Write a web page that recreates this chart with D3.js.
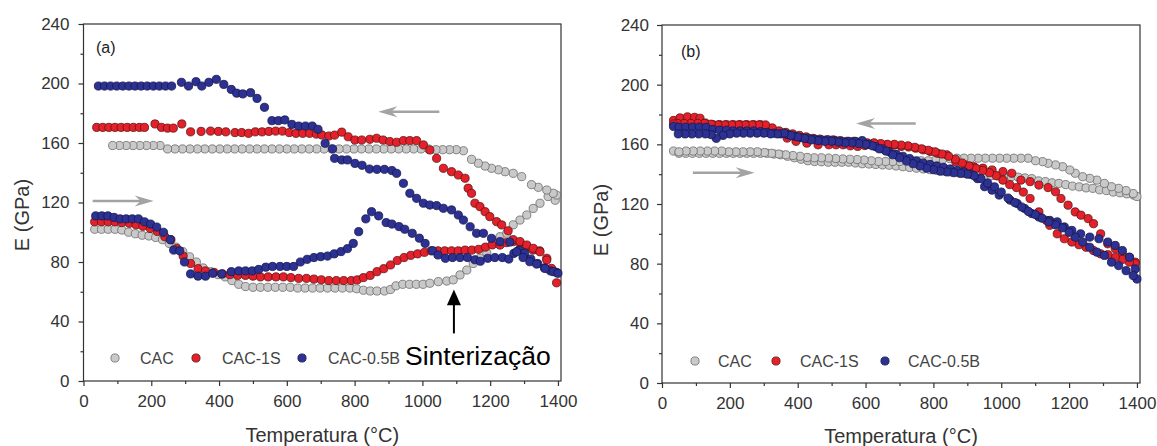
<!DOCTYPE html>
<html><head><meta charset="utf-8">
<script src="https://cdn.jsdelivr.net/npm/d3@7"></script>
<style>body{margin:0;background:#fff}text{font-family:"Liberation Sans",Arial,sans-serif}</style>
</head><body><svg id="c" width="1157" height="446"></svg>
<script>
// ---------- DATA ----------
const seriesNames = ["CAC", "CAC-1S", "CAC-0.5B"];
const xMajorTicks = [0, 200, 400, 600, 800, 1000, 1200, 1400];
const xMinorTicks = [100, 300, 500, 700, 900, 1100, 1300];
const yMajorTicks = [0, 40, 80, 120, 160, 200, 240];
const yMinorTicks = [20, 60, 100, 140, 180, 220];

// Panel (a) [Temperature °C, E GPa]
const aCAC_heat = [[33,102],[53,102],[73,102],[93,102],[113,101.5],[133,100],[153,99],[173,98],[193,97.5],[213,96.5],[233,95],[253,92.5],[273,90],[293,87],[313,83.5],[333,80],[353,76],[375,73.5],[397,71.5],[418,70],[438,67.5],[458,65],[478,63.5],[500,63],[522,63],[544,63],[566,63],[588,63],[610,63],[632,62.5],[654,62.5],[676,62.5],[698,62.5],[720,62.5],[742,62.5],[764,62.5],[786,62.5],[806,62],[826,61],[846,60.5],[866,60.5],[888,60.5],[906,61.5],[922,64],[942,65],[962,65],[982,65],[1002,65],[1022,65.7],[1047,66.8],[1072,67.2],[1091,68],[1111,71.3],[1131,74.6],[1150,79],[1170,82.5],[1190,86],[1209,93.7],[1229,97],[1249,99.3],[1268,105],[1288,108.2],[1308,111.6],[1327,116],[1347,119.5],[1371,124],[1392,121.5]];
const aCAC_cool = [[1396,125],[1386,126.2],[1367,128.4],[1342,130.2],[1322,132],[1293,137.4],[1268,139.6],[1244,140.7],[1224,142],[1204,143],[1185,144.5],[1165,146.4],[1145,149],[1121,154.8],[1100,155.5],[1080,155.5],[1060,155.5],[1040,155.5],[1018,156],[996,156],[974,156],[952,156],[930,156],[908,156],[886,156],[864,156],[842,156],[820,156],[798,156],[776,156],[754,156],[732,156],[710,156],[688,156],[666,156],[644,156],[622,156],[600,156],[578,156],[556,156],[534,156],[512,156],[490,156],[468,156],[446,156],[424,156],[402,156],[380,156],[358,156],[336,156],[314,156],[292,156],[270,156],[248,156],[226,158.3],[206,158.3],[186,158.3],[166,158.3],[146,158.3],[126,158.3],[106,158.3],[86,158.3]];
const aS_heat = [[33,107],[53,107],[73,107],[93,107],[113,106.5],[135,106],[155,105],[175,104],[197,102.5],[218,100.5],[240,97],[258,95],[275,89],[294,84],[316,79],[338,75.5],[360,74],[385,73],[410,72],[432,71.5],[455,71],[478,71],[500,70.5],[522,70],[545,70],[568,70],[590,70],[612,69.5],[635,69],[658,69],[680,68.5],[702,68],[724,67.5],[746,67.5],[768,67.5],[790,67.5],[808,68],[826,69.5],[846,71],[866,73.5],[886,75.5],[906,78],[926,81],[946,83],[966,84.5],[986,85.5],[1006,86.5],[1026,87.5],[1046,87.5],[1066,87.5],[1086,87.5],[1106,87.5],[1126,88],[1146,88],[1166,88.5],[1186,90],[1206,91.5],[1229,91.4],[1248,93],[1268,93.7],[1288,93],[1308,90.3],[1327,88],[1346,87.5],[1367,82.5],[1386,74],[1396,66]];
const aS_cool = [[39,170.5],[57,170.5],[75,170.5],[93,170.5],[111,170.5],[129,170.5],[147,170.5],[165,170.5],[180,170.5],[211,172.8],[230,170.5],[248,170],[265,170],[290,172.8],[316,167.5],[347,167.8],[375,168],[398,167.8],[420,167.5],[447,167],[467,167],[487,166.5],[507,167.5],[527,167.5],[547,167.8],[567,168],[587,168],[607,167],[627,166.5],[647,166.5],[667,166.5],[687,166],[703,165.4],[724,164.7],[741,165.3],[762,167.3],[781,164.2],[801,162],[821,162],[845,162.5],[865,163.2],[884,162],[904,161],[924,160.5],[944,161.6],[963,161.6],[983,161.6],[1003,158.7],[1022,155.3],[1042,149.7],[1062,143],[1086,140.7],[1106,138.5],[1126,136.3],[1135,129.6],[1145,126.2],[1155,119.5],[1170,117.2],[1185,113.8],[1199,110.5],[1219,107.1],[1234,104.9],[1253,101],[1268,95],[1288,93.7],[1308,91.4],[1327,89.2],[1347,86.9],[1367,81.3],[1381,75.7]];
const aB_heat = [[36,111],[54,111],[72,111],[90,110],[108,109],[126,109],[144,109],[162,109],[180,107],[198,105.5],[216,103.5],[236,100],[256,95],[266,88],[284,87.5],[298,80],[316,72],[338,70.5],[360,70.5],[381,72.4],[408,72],[436,73.5],[458,74],[478,74],[498,74],[517,75],[538,76.5],[558,77],[580,77],[600,77],[620,77],[640,80],[660,81.8],[680,83],[700,83.6],[720,84],[740,85.5],[760,87],[779,89],[796,92.5],[812,100.4],[833,109],[850,113.8],[871,111],[893,106.5],[910,105.5],[931,103.8],[948,102],[970,99.3],[991,96],[1008,92.5],[1030,87.6],[1046,84.7],[1068,82.5],[1089,83],[1111,83],[1133,83],[1155,81.5],[1171,80.5],[1193,82.5],[1214,83],[1236,83],[1255,82],[1270,85.8],[1285,88],[1302,86],[1320,82],[1340,79],[1360,76],[1378,74],[1396,73]];
const aB_cool = [[44,198.3],[62,198.3],[80,198.3],[98,198.3],[116,198.3],[134,198.3],[152,198.3],[170,198.3],[188,198.3],[206,198.3],[224,198.3],[242,198.3],[260,198.3],[289,200.8],[310,198.3],[332,201.2],[349,198.3],[370,200.8],[392,202.8],[414,199.4],[436,196],[452,193.5],[470,193],[493,193.8],[512,190],[534,184],[556,175],[575,175],[594,175.5],[615,172.5],[635,171.4],[655,171.4],[675,171.4],[692,169.2],[713,159.8],[735,156],[741,149.7],[762,148.6],[779,148.6],[801,146.3],[822,145],[844,142.5],[866,142.3],[888,142.3],[910,141.5],[924,139.6],[944,132.9],[963,126.2],[983,122.8],[1003,119.5],[1022,118.3],[1042,117.9],[1062,116.1],[1086,115],[1106,111.6],[1121,108.2],[1141,103.7],[1160,99.3],[1180,99.3],[1204,95.9],[1229,93.7],[1258,93.4],[1278,86.9],[1297,83],[1317,80.2],[1337,78.6],[1362,75.7],[1386,73.5],[1400,72.4]];

// Panel (b)
const bCAC_heat = [[34,155.5],[50,154],[70,154],[90,154],[110,154],[130,154],[150,154],[170,154],[190,154],[210,154],[230,154],[250,154],[270,154],[290,154],[310,154],[330,153.5],[350,153],[370,152],[390,151],[410,150],[430,149],[450,148.5],[470,148.3],[490,148],[510,148],[530,148],[550,148],[570,147.5],[590,147],[610,146.8],[630,146.5],[650,146.2],[670,146],[690,145.5],[710,145],[730,144.5],[750,144],[770,143.5],[790,143],[810,142.5],[830,142],[850,141.5],[870,141],[890,140.5],[910,140],[930,139.5],[950,139],[970,139],[990,138.8],[1010,138.5],[1030,138.3],[1050,138],[1070,137.5],[1090,137],[1110,135.5],[1130,135],[1150,134.2],[1170,133.8],[1190,133],[1210,132],[1230,131.5],[1250,130.8],[1270,130.5],[1290,129.5],[1310,129],[1330,128],[1350,127.5],[1370,126.8],[1390,126]];
const bCAC_cool = [[1400,125],[1389,127],[1368,129],[1346,130.5],[1325,131.6],[1304,133.8],[1282,136],[1261,137.2],[1240,138.3],[1218,140.6],[1202,142.8],[1181,145],[1160,146.2],[1138,147.3],[1122,148.4],[1101,149],[1079,150.7],[1058,150.7],[1037,150.7],[1016,150.7],[995,150.7],[974,150.7],[953,150.7],[932,150.7],[911,150.7],[890,150.7],[869,150.7],[848,150.5],[827,150],[806,149.5],[785,149],[764,149],[743,148.5],[722,148.5],[701,148.5],[680,148.5],[659,148.5],[638,148.5],[617,149],[596,149.5],[575,149.8],[554,150],[533,150.2],[512,150.5],[491,150.8],[470,151],[449,151],[428,151.2],[407,152],[386,152.5],[365,153],[344,153.5],[323,154],[302,154.5],[281,155],[260,155],[239,155],[218,155],[197,155],[176,155.5],[155,155.5],[134,155.5],[113,155.5],[92,155.5],[71,155.5],[50,155]];
const bS_heat = [[34,176],[53,177.7],[75,178.4],[96,178.1],[112,177.5],[128,174.3],[150,173.2],[170,173.2],[190,173.2],[210,173.2],[230,173.2],[250,173.2],[270,173.2],[290,173.2],[315,170.5],[342,167.6],[369,164.2],[395,162],[427,160.8],[460,159.7],[492,159.7],[513,159.7],[534,159.7],[555,159],[577,158.6],[598,159.2],[620,159.7],[641,159.7],[662,159.7],[684,159.5],[705,158.6],[727,158.2],[748,157.4],[770,156.3],[791,155.2],[812,154],[839,153],[866,148.4],[892,146.2],[919,145],[946,144],[973,142.8],[1005,141.7],[1031,140.6],[1058,136],[1085,135],[1111,132.7],[1138,131],[1160,128.2],[1176,123.7],[1197,119.2],[1218,114.7],[1235,112.5],[1256,110.2],[1272,106.8],[1293,100],[1314,93.3],[1336,90],[1357,86.6],[1378,84.3],[1395,81]];
const bS_cool = [[1395,80],[1378,81],[1357,82.8],[1336,84.3],[1314,86],[1293,86.6],[1272,88.8],[1250,91],[1229,92.7],[1208,94.5],[1186,96.7],[1165,100],[1143,105.7],[1133,109],[1111,114.7],[1085,123.7],[1065,128],[1045,131],[1025,133],[1005,136],[985,139],[965,141],[945,142.5],[925,144],[905,145.5],[885,147.5],[865,150],[845,152],[825,153.5],[805,155],[785,156],[765,157],[745,158],[725,159],[705,159.5],[685,160],[665,160],[645,160.5],[625,161],[605,161],[585,161.5],[565,162],[545,162],[525,162.5],[505,163],[485,163],[465,163.5],[445,164],[425,165],[405,166],[385,167],[365,168],[345,169],[325,171],[305,173],[285,173],[265,173],[245,173],[225,173],[205,173],[185,173],[165,173],[145,173.5],[125,174],[105,174],[85,174],[65,174],[45,174],[34,173.6]];
const bB_heat = [[34,172],[50,171.5],[70,171.5],[90,171.5],[110,171.5],[130,171.4],[150,170],[170,169.5],[190,169.5],[210,169],[230,169],[250,169],[270,169],[290,168.5],[310,168],[330,167.5],[350,167],[370,166.5],[390,165.5],[410,164.5],[430,164],[450,163.5],[470,163],[490,163],[510,162.5],[530,162],[550,162],[570,162],[590,162.5],[610,160],[630,158.5],[650,157],[670,155],[690,153.4],[710,152],[730,150.5],[750,149],[770,147.5],[790,146.5],[810,145.5],[830,144.5],[850,143.5],[870,142.5],[890,141.5],[910,140],[930,137],[951,131.6],[973,129.3],[994,126],[1026,122.6],[1047,120.3],[1069,117],[1090,113.6],[1111,111.3],[1143,109],[1165,108],[1186,104.6],[1208,102.3],[1234,100],[1261,97.8],[1288,96.7],[1314,94.5],[1336,92.2],[1357,88.8],[1378,84.3],[1395,76.5]];
const bB_cool = [[1400,69.7],[1389,72],[1368,75.3],[1346,78.7],[1325,81],[1304,85.5],[1282,87.7],[1261,91],[1240,94.5],[1218,97.8],[1200,101],[1180,104],[1160,106],[1140,108],[1120,110.5],[1100,113],[1080,115],[1060,118],[1040,121],[1020,124],[1000,128],[980,131.5],[960,134],[940,137],[920,139],[900,140],[880,140.5],[860,141],[840,141.5],[820,142],[800,143],[780,144],[760,145.5],[740,147],[720,149],[700,151],[680,153],[660,155.5],[640,157],[620,159],[600,160],[580,160.5],[560,161],[540,161],[520,161.5],[500,162],[480,162],[460,162.5],[440,163],[420,164],[400,165],[380,166],[360,167.5],[340,167],[320,167],[300,167.5],[280,167.5],[260,167.5],[240,167.5],[220,167.5],[200,167],[180,166],[160,164],[145,166.5],[128,167],[108,167],[88,167],[68,167],[48,167]];

// ---------- STYLE ----------
const fills = ["#c9c9c9", "#e5202b", "#2c3193"];
const strokes = ["#6a6a6a", "#5a1515", "#15184a"];
const axisColor = "#333";
const R = 4.1;

const svg = d3.select("#c");

function drawPanel(cfg) {
  const x = d3.scaleLinear().domain([0, 1409]).range([cfg.left, cfg.right]);
  const y = d3.scaleLinear().domain([0, 240]).range([cfg.bottom, cfg.top]);
  const g = svg.append("g");

  g.append("rect").attr("x", cfg.left).attr("y", cfg.top)
    .attr("width", cfg.right - cfg.left).attr("height", cfg.bottom - cfg.top)
    .attr("fill", "none").attr("stroke", axisColor).attr("stroke-width", 1.2);

  const styleAxis = sel => {
    sel.select(".domain").remove();
    sel.selectAll("line").attr("stroke", axisColor).attr("stroke-width", 1.2);
    sel.selectAll("text").attr("fill", axisColor).style("font-size", "17px")
      .style("font-family", '"Liberation Sans", Arial, sans-serif');
  };
  const fmt = d3.format("d");
  g.append("g").attr("transform", `translate(0,${cfg.bottom})`)
    .call(d3.axisBottom(x).tickValues(xMajorTicks).tickFormat(fmt).tickSize(5).tickPadding(9)).call(styleAxis);
  g.append("g").attr("transform", `translate(0,${cfg.bottom})`)
    .call(d3.axisBottom(x).tickValues(xMinorTicks).tickSize(3).tickFormat("")).call(styleAxis);
  g.append("g").attr("transform", `translate(${cfg.left},0)`)
    .call(d3.axisLeft(y).tickValues(yMajorTicks).tickFormat(fmt).tickSize(5).tickPadding(cfg.yPad)).call(styleAxis);
  g.append("g").attr("transform", `translate(${cfg.left},0)`)
    .call(d3.axisLeft(y).tickValues(yMinorTicks).tickSize(3).tickFormat("")).call(styleAxis);

  g.append("text").attr("x", (cfg.left + cfg.right) / 2).attr("y", cfg.xTitleY)
    .attr("text-anchor", "middle").attr("fill", axisColor).style("font-size", "20px")
    .text("Temperatura (°C)");
  g.append("text").attr("transform", `translate(${cfg.yTitleX},${cfg.yTitleY}) rotate(-90)`)
    .attr("text-anchor", "middle").attr("fill", axisColor).style("font-size", "20px")
    .text("E (GPa)");
  g.append("text").attr("x", cfg.labelX).attr("y", cfg.labelY).attr("fill", "#222")
    .style("font-size", "16px").text(cfg.label);

  cfg.arrows.forEach(a => {
    const x1 = x(a[0]), x2 = x(a[1]), yy = y(a[2]);
    const dir = x2 > x1 ? 1 : -1;
    g.append("line").attr("x1", x1).attr("y1", yy).attr("x2", x2 - dir * 10).attr("y2", yy)
      .attr("stroke", "#a3a3a3").attr("stroke-width", 2.6);
    g.append("path").attr("d",
      `M${x2},${yy} L${x2 - dir * 19},${yy - 5.5} L${x2 - dir * 13},${yy} L${x2 - dir * 19},${yy + 5.5} Z`)
      .attr("fill", "#a3a3a3");
  });

  cfg.series.forEach((branches, i) => {
    branches.forEach(pts => {
      g.append("g").selectAll("circle").data(pts).join("circle")
        .attr("cx", d => x(d[0])).attr("cy", d => y(d[1])).attr("r", R)
        .attr("fill", fills[i]).attr("stroke", strokes[i]).attr("stroke-width", 0.8);
    });
  });

  seriesNames.forEach((n, i) => {
    g.append("circle").attr("cx", cfg.legCircle[i]).attr("cy", cfg.legY).attr("r", R)
      .attr("fill", fills[i]).attr("stroke", strokes[i]).attr("stroke-width", 0.8);
    g.append("text").attr("x", cfg.legText[i]).attr("y", cfg.legY).attr("dy", "0.35em")
      .attr("fill", "#444").style("font-size", "16px").text(n);
  });
  return {x, y, g};
}

const pa = drawPanel({
  left: 83.5, right: 561, top: 24, bottom: 381, yPad: 9,
  xTitleY: 442, yTitleX: 29, yTitleY: 215, label: "(a)", labelX: 96, labelY: 53,
  arrows: [[27, 207, 121], [1050, 870, 181]],
  series: [[aCAC_heat, aCAC_cool], [aS_heat, aS_cool], [aB_heat, aB_cool]],
  legY: 358, legCircle: [115, 196, 302], legText: [140, 222, 328]
});
const sx = pa.x(1093);
pa.g.append("line").attr("x1", sx).attr("x2", sx).attr("y1", pa.y(32)).attr("y2", pa.y(56))
  .attr("stroke", "#000").attr("stroke-width", 2);
pa.g.append("path").attr("d",
  `M${sx},${pa.y(61.5)} L${sx - 7},${pa.y(51)} L${sx + 7},${pa.y(51)} Z`).attr("fill", "#000");
pa.g.append("text").attr("x", 405).attr("y", 365).attr("fill", "#000")
  .style("font-size", "26.5px").text("Sinterização");

drawPanel({
  left: 662, right: 1140, top: 25, bottom: 383, yPad: 8,
  xTitleY: 443, yTitleX: 608, yTitleY: 220, label: "(b)", labelX: 681, labelY: 57,
  arrows: [[748, 572, 174], [91, 273, 141]],
  series: [[bCAC_heat, bCAC_cool], [bS_heat, bS_cool], [bB_heat, bB_cool]],
  legY: 361, legCircle: [695, 776, 885], legText: [718, 800, 908]
});
</script></body></html>
